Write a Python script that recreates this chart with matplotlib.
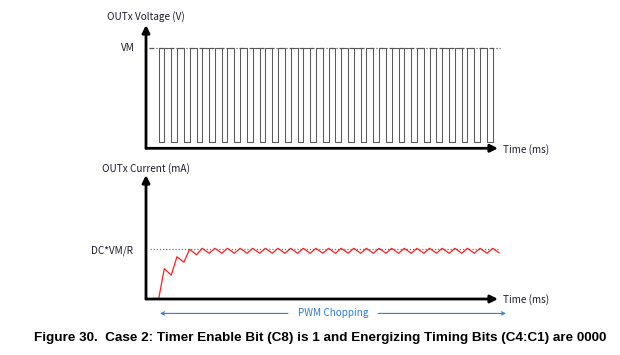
import matplotlib
matplotlib.use('Agg')
import matplotlib.pyplot as plt

# PWM low pulses (time units = one chopping period)
pulse_start = [1.0, 2.0, 3.0, 4.0, 5.0, 6.0, 7.0, 8.0, 9.0, 10.0, 11.0, 12.0, 13.0, 14.0,
               15.0, 16.0, 17.0, 18.0, 19.0, 20.0, 21.0, 22.0, 23.0, 24.0, 25.0, 26.0, 27.0]
pulse_width = 0.45
vm_level = 1.0

# current ripple, relative to DC*VM/R
current_trough = [0.0, 0.48, 0.74, 0.89, 0.92, 0.92, 0.92, 0.92, 0.92, 0.92, 0.92, 0.92, 0.92, 0.92,
                  0.92, 0.92, 0.92, 0.92, 0.92, 0.92, 0.92, 0.92, 0.92, 0.92, 0.92, 0.92, 0.92]
current_peak = [0.61, 0.85, 1.00, 1.02, 1.02, 1.02, 1.02, 1.02, 1.02, 1.02, 1.02, 1.02, 1.02, 1.02,
                1.02, 1.02, 1.02, 1.02, 1.02, 1.02, 1.02, 1.02, 1.02, 1.02, 1.02, 1.02, 1.02]
current_end = (27.95, 0.93)

txt_font = ['Noto Sans CJK JP', 'DejaVu Sans']
txt_col = '#1c1c2c'
fs = 7.2
W, H = 620, 355
XMAX = 27.87

fig = plt.figure(figsize=(6.2, 3.55), dpi=100)
ax1 = fig.add_axes([146 / W, 1 - 148.3 / H, (498 - 146) / W, (148.3 - 25) / H])
ax2 = fig.add_axes([146 / W, 1 - 299 / H, (498 - 146) / W, (299 - 175) / H])

for ax in (ax1, ax2):
    ax.set_xlim(0, XMAX)
    ax.axis('off')

ax1.set_ylim(-0.07, 1.245)
ax2.set_ylim(0, 2.495)

def draw_axes(ax, y0, ytop):
    ap = dict(arrowstyle='-|>', lw=2.0, color='black', shrinkA=0, shrinkB=0, mutation_scale=11)
    ax.annotate('', xy=(XMAX, y0), xytext=(0, y0), arrowprops=ap, annotation_clip=False)
    ax.annotate('', xy=(0, ytop), xytext=(0, y0), arrowprops=ap, annotation_clip=False)

draw_axes(ax1, -0.07, 1.245)
draw_axes(ax2, 0, 2.495)

# voltage waveform
vx, vy = [], []
for s in pulse_start:
    vx += [s, s, s + pulse_width, s + pulse_width]
    vy += [vm_level, 0, 0, vm_level]
ax1.plot([0.25, 28.0], [vm_level, vm_level], color='#555555', lw=0.9, ls=(0, (4, 1.5, 1, 1.5)), clip_on=False)
ax1.plot(vx, vy, color='#5a5a5a', lw=0.75)

# current waveform
cx, cy = [], []
for s, lo, hi in zip(pulse_start, current_trough, current_peak):
    cx += [s, s + pulse_width]
    cy += [lo, hi]
cx.append(current_end[0])
cy.append(current_end[1])
ax2.plot([0.3, 28.0], [1.0, 1.0], color='#777777', lw=0.9, ls=(0, (1, 1.5)), clip_on=False)
ax2.plot(cx, cy, color='#ff2020', lw=0.9, clip_on=False)

# labels
ax1.text(-3.11, 1.33, 'OUTx Voltage (V)', fontsize=fs, family=txt_font, color=txt_col,
         ha='left', va='center', clip_on=False)
ax1.text(-0.87, vm_level, 'VM', fontsize=fs, family=txt_font, color=txt_col,
         ha='right', va='center', clip_on=False)
ax1.text(28.27, -0.08, 'Time (ms)', fontsize=fs, family=txt_font, color=txt_col,
         ha='left', va='center', clip_on=False)
ax2.text(-3.51, 2.63, 'OUTx Current (mA)', fontsize=fs, family=txt_font, color=txt_col,
         ha='left', va='center', clip_on=False)
ax2.text(-1.03, 0.97, 'DC*VM/R', fontsize=fs, family=txt_font, color=txt_col,
         ha='right', va='center', clip_on=False)
ax2.text(28.27, -0.02, 'Time (ms)', fontsize=fs, family=txt_font, color=txt_col,
         ha='left', va='center', clip_on=False)

# PWM chopping span
blue = '#2f7fd0'
bp = dict(arrowstyle='->', lw=0.8, color=blue, shrinkA=0, shrinkB=0, mutation_scale=6)
ax2.annotate('', xy=(1.11, -0.29), xytext=(11.24, -0.29), arrowprops=bp, annotation_clip=False)
ax2.annotate('', xy=(28.5, -0.29), xytext=(18.37, -0.29), arrowprops=bp, annotation_clip=False)
ax2.text(14.8, -0.29, 'PWM Chopping', fontsize=fs, family=txt_font, color=blue,
         ha='center', va='center', clip_on=False)

fig.text(320 / W, 1 - 338 / H,
         'Figure 30.  Case 2: Timer Enable Bit (C8) is 1 and Energizing Timing Bits (C4:C1) are 0000',
         fontsize=9.7, fontweight='bold', family='Liberation Sans', ha='center', va='center')

fig.savefig('out.png', dpi=100, facecolor='white')
